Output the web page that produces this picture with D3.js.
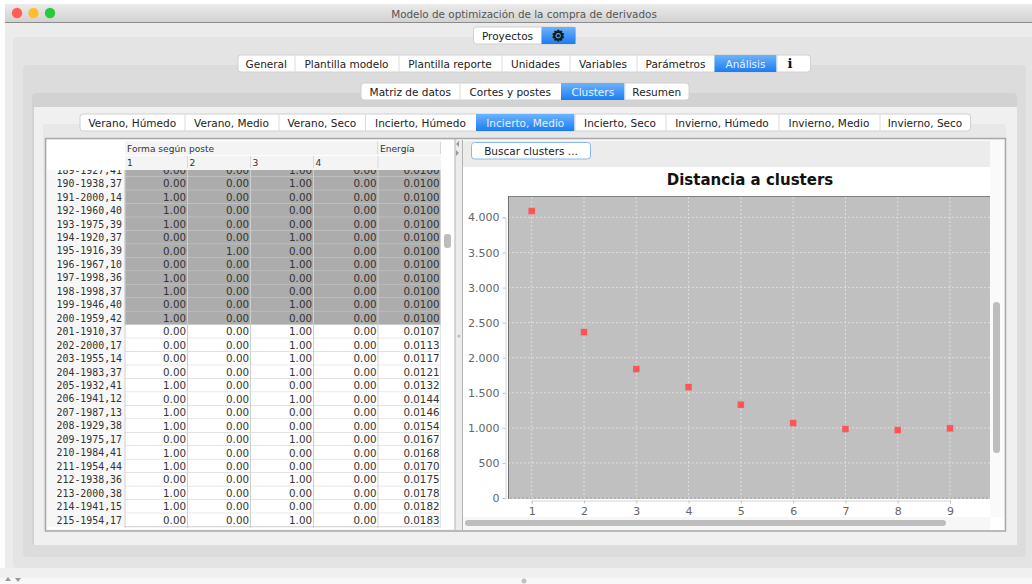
<!DOCTYPE html>
<html>
<head>
<meta charset="utf-8">
<script src="https://cdn.jsdelivr.net/npm/d3@7"></script>
<style>
  html, body { margin: 0; padding: 0; background: #fff; }
  svg { display: block; }
  text { font-family: "DejaVu Sans", sans-serif; }
</style>
</head>
<body>
<svg id="chart" width="1032" height="584"></svg>
<script>
// chart values
var clusters = [1, 2, 3, 4, 5, 6, 7, 8, 9];
var distances = [4090, 2365, 1838, 1580, 1330, 1068, 983, 969, 993];
var yTicks = [0, 500, 1000, 1500, 2000, 2500, 3000, 3500, 4000];

// table values
var rowLabels = ['189-1927,41', '190-1938,37', '191-2000,14', '192-1960,40', '193-1975,39', '194-1920,37',
    '195-1916,39', '196-1967,10', '197-1998,36', '198-1998,37', '199-1946,40', '200-1959,42', '201-1910,37',
    '202-2000,17', '203-1955,14', '204-1983,37', '205-1932,41', '206-1941,12', '207-1987,13', '208-1929,38',
    '209-1975,17', '210-1984,41', '211-1954,44', '212-1938,36', '213-2000,38', '214-1941,15', '215-1954,17'];
var rowForma = [3, 3, 1, 1, 1, 3, 2, 3, 1, 1, 3, 1, 3, 3, 3, 3, 1, 3, 1, 1, 3, 1, 1, 3, 1, 1, 3];
var rowEnergia = [0.0100, 0.0100, 0.0100, 0.0100, 0.0100, 0.0100, 0.0100, 0.0100, 0.0100, 0.0100, 0.0100, 0.0100,
    0.0107, 0.0113, 0.0117, 0.0121, 0.0132, 0.0144, 0.0146, 0.0154, 0.0167, 0.0168, 0.0170, 0.0175, 0.0178, 0.0182, 0.0183];
var formaColumns = [1, 2, 3, 4];

// tab labels
var mainTabs = ['General', 'Plantilla modelo', 'Plantilla reporte', 'Unidades', 'Variables', 'Parámetros', 'Análisis', 'i'];
var analysisTabs = ['Matriz de datos', 'Cortes y postes', 'Clusters', 'Resumen'];
var scenarioTabs = ['Verano, Húmedo', 'Verano, Medio', 'Verano, Seco', 'Incierto, Húmedo', 'Incierto, Medio',
    'Incierto, Seco', 'Invierno, Húmedo', 'Invierno, Medio', 'Invierno, Seco'];

var svg = d3.select('#chart');
var defs = svg.append('defs');

function gradient(id, top, bottom) {
    var g = defs.append('linearGradient').attr('id', id).attr('x1', 0).attr('y1', 0).attr('x2', 0).attr('y2', 1);
    g.append('stop').attr('offset', '0%').attr('stop-color', top);
    g.append('stop').attr('offset', '100%').attr('stop-color', bottom);
}
gradient('titleGrad', '#ebebeb', '#d2d2d2');
gradient('activeGrad', '#6cb3fb', '#1b7cf3');

defs.append('clipPath').attr('id', 'rowsClip').append('rect')
    .attr('x', 47).attr('y', 170).attr('width', 394).attr('height', 358);
defs.append('clipPath').attr('id', 'plotClip').append('rect')
    .attr('x', 463).attr('y', 167).attr('width', 527).attr('height', 350);

function box(x0, y0, x1, y1, fill, r, stroke) {
    return svg.append('rect').attr('x', x0).attr('y', y0).attr('width', x1 - x0).attr('height', y1 - y0)
        .attr('rx', r || 0).attr('fill', fill).attr('stroke', stroke || 'none');
}

function hline(x0, x1, y, color) {
    svg.append('line').attr('x1', x0).attr('x2', x1).attr('y1', y).attr('y2', y).attr('stroke', color);
}

function vline(x, y0, y1, color) {
    svg.append('line').attr('x1', x).attr('x2', x).attr('y1', y0).attr('y2', y1).attr('stroke', color);
}

function drawTabs(labels, edges, active, y0, y1) {
    box(edges[0], y0, edges[edges.length - 1], y1, '#ffffff', 3, '#d0d0d0');
    labels.forEach(function (label, i) {
        if (i > 0) vline(edges[i] + 0.5, y0, y1, '#dcdcdc');
        if (i === active) box(edges[i], y0, edges[i + 1], y1, 'url(#activeGrad)');
        if (label === 'i') return;
        svg.append('text')
            .attr('x', (edges[i] + edges[i + 1]) / 2)
            .attr('y', y1 - 4.5)
            .attr('text-anchor', 'middle')
            .attr('font-size', 10.5)
            .attr('fill', i === active ? '#e6f0ff' : '#222')
            .text(label);
    });
}

// window and nested panels
box(5, 4, 1032, 584, '#ececec');
box(5, 4, 1032, 22, 'url(#titleGrad)');
hline(5, 1032, 22.5, '#8c8c8c');
svg.append('text').attr('x', 524).attr('y', 17.5).attr('text-anchor', 'middle')
    .attr('font-size', 10.4).attr('fill', '#555').text('Modelo de optimización de la compra de derivados');
[['#ff5f57', 17], ['#ffbd2e', 33.5], ['#28c940', 50]].forEach(function (b) {
    svg.append('circle').attr('cx', b[1]).attr('cy', 13).attr('r', 5.2).attr('fill', b[0]);
});

box(13, 37, 1040, 568, '#e4e4e4', 4);
box(23, 65, 1026, 557, '#dcdcdc', 4);
box(32, 93, 1017, 545, '#d2d2d2', 4);
box(34, 107, 1017, 545, '#f0f0f0');
box(43, 124, 1006, 532, '#e8e8e8', 3);
box(0, 568, 1032, 578, '#f0f0f0');
box(0, 578, 1032, 584, '#f8f8f8');
box(5, 568, 1032, 578, '#f0f0f0');

// tabs
drawTabs(['Proyectos', ''], [473.5, 541.5, 575.5], 1, 27, 44);
svg.append('text').attr('x', 558.5).attr('y', 41).attr('text-anchor', 'middle')
    .attr('font-size', 15).attr('fill', '#111').attr('stroke', '#111').attr('stroke-width', 0.7).text('\u2699');
drawTabs(mainTabs, [238, 294.5, 398.5, 501.5, 569.5, 636.5, 714.5, 776.5, 810.5], 6, 55, 72);
svg.append('text').attr('x', 790).attr('y', 68).attr('text-anchor', 'middle')
    .style('font-family', '"DejaVu Serif", serif').attr('font-weight', 'bold')
    .attr('font-size', 13).attr('fill', '#111').text('i');
drawTabs(analysisTabs, [361, 459.5, 561, 624.5, 689], 2, 83, 100);
drawTabs(scenarioTabs, [80, 184.5, 278.5, 365, 476, 574.5, 665.5, 778.5, 879.5, 970.5], 4, 114, 131);

// outer frames of the two split panes
box(45.5, 138.5, 1005.5, 531, '#f4f4f4');
box(47, 140, 455, 529, '#ffffff');
box(455, 140, 463, 530, '#ececec');
vline(462.5, 140, 530, '#b4b4b4');
vline(455, 139, 530, '#b4b4b4');
box(463, 140, 1004, 530, '#fafafa');

// table header
var columnEdges = [124.5, 187, 250, 313, 377.5, 440.5];
box(47, 140, 441, 170, '#ffffff');
box(125, 141, 441, 155, '#f4f4f4');
box(125, 156, 441, 170, '#f4f4f4');
svg.append('text').attr('x', 127).attr('y', 151.5).attr('font-size', 9.1).attr('fill', '#333').text('Forma según poste');
svg.append('text').attr('x', 380).attr('y', 151.5).attr('font-size', 9.1).attr('fill', '#333').text('Energía');
formaColumns.forEach(function (c, i) {
    svg.append('text').attr('x', columnEdges[i] + 2.5).attr('y', 165.5).attr('font-size', 9.1).attr('fill', '#333').text(c);
    vline(columnEdges[i + 1] + 0.5, 156, 168, '#d8d8d8');
});
vline(377.5, 142, 154, '#d8d8d8');
vline(440.5, 142, 154, '#d8d8d8');

// table rows
var rowScale = d3.scaleLinear().domain([0, 26]).range([170.1, 520]);
var rowHeight = rowScale(1) - rowScale(0);
var rowsGroup = svg.append('g').attr('clip-path', 'url(#rowsClip)');
var rows = rowsGroup.selectAll('.row')
    .data(rowLabels)
    .enter().append('g')
    .attr('class', 'row')
    .attr('transform', function (d, i) { return 'translate(0,' + rowScale(i) + ')'; });

rows.append('rect')
    .attr('x', columnEdges[0]).attr('y', -rowHeight / 2)
    .attr('width', columnEdges[5] - columnEdges[0]).attr('height', rowHeight)
    .attr('fill', function (d, i) { return rowEnergia[i] === 0.01 ? '#acacac' : '#ffffff'; });
rows.append('rect')
    .attr('x', 47).attr('y', -rowHeight / 2).attr('width', 77.5).attr('height', rowHeight).attr('fill', '#f7f7f7');
rows.append('line')
    .attr('x1', columnEdges[0]).attr('x2', columnEdges[5]).attr('y1', rowHeight / 2).attr('y2', rowHeight / 2)
    .attr('stroke', function (d, i) { return rowEnergia[i] === 0.01 ? '#c8c8c8' : '#cccccc'; });
rows.append('text')
    .attr('x', 122).attr('y', 3.6).attr('text-anchor', 'end')
    .style('font-family', '"DejaVu Sans Mono", monospace')
    .attr('font-size', 9.9).attr('fill', '#333')
    .text(function (d) { return d; });

formaColumns.forEach(function (c, k) {
    rows.append('text')
        .attr('x', columnEdges[k + 1] - 1).attr('y', 3.8).attr('text-anchor', 'end')
        .attr('font-size', 10.3).attr('fill', '#333')
        .text(function (d, i) { return rowForma[i] === c ? '1.00' : '0.00'; });
});
rows.append('text')
    .attr('x', columnEdges[5] - 1).attr('y', 3.8).attr('text-anchor', 'end')
    .attr('font-size', 10.3).attr('fill', '#333')
    .text(function (d, i) { return rowEnergia[i].toFixed(4); });

// column rules over the rows
columnEdges.forEach(function (e) {
    rowsGroup.append('line').attr('x1', e + 0.5).attr('x2', e + 0.5).attr('y1', 170).attr('y2', 528).attr('stroke', '#cfcfcf');
});

// table scrollbar and split arrows
box(444, 234, 451, 248, '#bdbdbd', 3);
svg.append('path').attr('d', 'M459 141 L456 144 L459 147 Z').attr('fill', '#999');
svg.append('path').attr('d', 'M456 150 L459 153 L456 156 Z').attr('fill', '#999');
svg.append('circle').attr('cx', 459).attr('cy', 336).attr('r', 1.5).attr('fill', '#bbb');

// right pane: toolbar and button
box(463, 141, 990, 167, '#ececec');
box(471.5, 142.5, 590.5, 159, '#ffffff', 3, '#8ab8ee');
svg.append('text').attr('x', 531).attr('y', 155).attr('text-anchor', 'middle')
    .attr('font-size', 10.5).attr('fill', '#222').text('Buscar clusters ...');

// chart
box(463, 167, 990, 517, '#ffffff');
svg.append('text').attr('x', 750).attr('y', 184.5).attr('text-anchor', 'middle')
    .attr('font-size', 15).attr('font-weight', 'bold').attr('fill', '#111').text('Distancia a clusters');

var x = d3.scaleLinear().domain([1, 9]).range([531.7, 950]);
var y = d3.scaleLinear().domain([0, 4000]).range([498, 217.4]);
var esLocale = d3.formatLocale({ decimal: ',', thousands: '.', grouping: [3], currency: ['', ''] });

var plot = svg.append('g').attr('clip-path', 'url(#plotClip)');
plot.append('rect').attr('x', 508).attr('y', 196.5).attr('width', 482).attr('height', 302.5).attr('fill', '#c0c0c0');
plot.append('rect').attr('x', 508).attr('y', 497).attr('width', 482).attr('height', 2).attr('fill', '#b0b0b0');

var gridColor = '#dedede';
plot.selectAll('.grid-x')
    .data(clusters)
    .enter().append('line')
    .attr('class', 'grid-x')
    .attr('x1', function (d) { return x(d); }).attr('x2', function (d) { return x(d); })
    .attr('y1', 197).attr('y2', 498)
    .attr('stroke', gridColor).attr('stroke-dasharray', '2,2');
plot.selectAll('.grid-y')
    .data(yTicks)
    .enter().append('line')
    .attr('class', 'grid-y')
    .attr('x1', 508).attr('x2', 990)
    .attr('y1', function (d) { return y(d); }).attr('y2', function (d) { return y(d); })
    .attr('stroke', gridColor).attr('stroke-dasharray', '2,2');

plot.append('line').attr('x1', 508).attr('x2', 990).attr('y1', 196.5).attr('y2', 196.5).attr('stroke', '#808080');
plot.append('line').attr('x1', 508.5).attr('x2', 508.5).attr('y1', 196).attr('y2', 499).attr('stroke', '#707070');

var xAxis = d3.axisBottom(x).tickValues(clusters).tickSize(3).tickPadding(4).tickFormat(d3.format('d'));
var yAxis = d3.axisLeft(y).tickValues(yTicks).tickSize(3).tickPadding(3).tickFormat(esLocale.format(','));

var xAxisG = plot.append('g').attr('transform', 'translate(0,500.5)').call(xAxis);
var yAxisG = plot.append('g').attr('transform', 'translate(505.5,0)').call(yAxis);
[xAxisG, yAxisG].forEach(function (a) {
    a.selectAll('.domain').attr('stroke', '#d4d4d4');
    a.selectAll('.tick line').attr('stroke', '#c4c4c4');
    a.selectAll('text').attr('font-size', 11).attr('fill', '#666').style('font-family', '"DejaVu Sans", sans-serif');
});

plot.selectAll('.point')
    .data(distances)
    .enter().append('rect')
    .attr('class', 'point')
    .attr('x', function (d, i) { return x(clusters[i]) - 3.25; })
    .attr('y', function (d) { return y(d) - 3.25; })
    .attr('width', 6.5).attr('height', 6.5)
    .attr('fill', '#ff5555');

// scrollbars of the chart
box(990, 141, 1004, 517, '#fafafa');
box(993, 302, 1000, 453, '#bdbdbd', 3.5);
box(463, 517, 990, 530, '#f7f7f7');
box(465, 520, 946, 526, '#bdbdbd', 3);
box(990, 517, 1004, 530, '#ffffff');

// frame on top, status bar marks
svg.append('rect').attr('x', 45.5).attr('y', 138.5).attr('width', 960).attr('height', 392.5)
    .attr('fill', 'none').attr('stroke', '#a8a8a8').attr('stroke-width', 1.5);
svg.append('path').attr('d', 'M5 581 L8 577 L11 581 Z').attr('fill', '#999');
svg.append('path').attr('d', 'M15 578 L21 578 L18 582 Z').attr('fill', '#999');
svg.append('circle').attr('cx', 524).attr('cy', 581).attr('r', 2.5).attr('fill', '#c0c0c0');
</script>
</body>
</html>
